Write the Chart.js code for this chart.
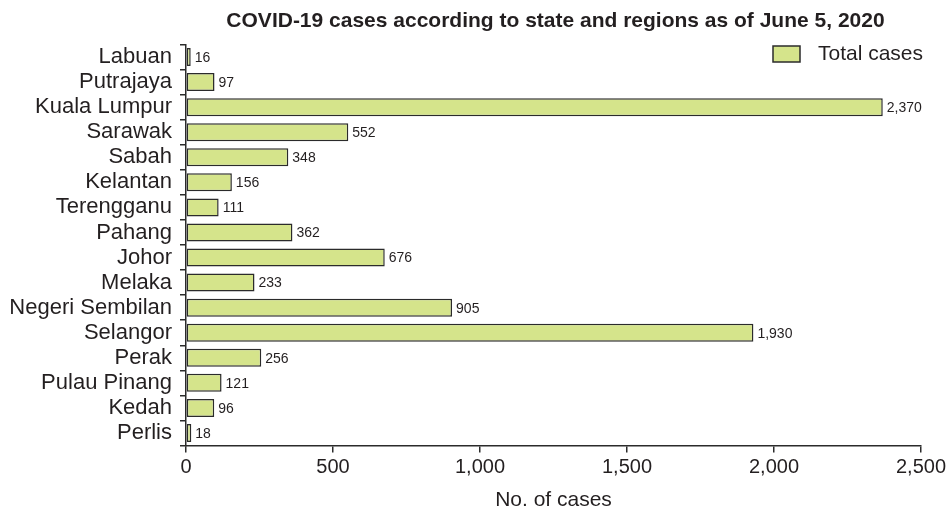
<!DOCTYPE html>
<html>
<head>
<meta charset="utf-8">
<script src="https://cdn.jsdelivr.net/npm/chart.js@4.4.1/dist/chart.umd.min.js"></script>
<style>
  html, body { margin: 0; padding: 0; background: #fff; }
  #wrap { width: 949px; height: 513px; }
</style>
</head>
<body>
<div id="wrap"><canvas id="casesChart" width="949" height="513"></canvas></div>
<script>
// data
let states = ["Labuan", "Putrajaya", "Kuala Lumpur", "Sarawak", "Sabah", "Kelantan", "Terengganu",
  "Pahang", "Johor", "Melaka", "Negeri Sembilan", "Selangor", "Perak", "Pulau Pinang", "Kedah", "Perlis"];
let totalCases = [16, 97, 2370, 552, 348, 156, 111, 362, 676, 233, 905, 1930, 256, 121, 96, 18];
let xTicks = [0, 500, 1000, 1500, 2000, 2500];

let chartTitle = 'COVID-19 cases according to state and regions as of June 5, 2020';
let fontName = "'Liberation Sans', Arial, sans-serif";
let textColor = '#231f20';
let lineColor = '#2b2b2b';
let barColor = 'rgb(213, 228, 139)';

// draws the number at the end of each bar
const barLabels = {
  id: 'barLabels',
  afterDatasetsDraw(chart) {
    const ctx = chart.ctx;
    const meta = chart.getDatasetMeta(0);
    ctx.save();
    ctx.font = '14px ' + fontName;
    ctx.fillStyle = textColor;
    ctx.textAlign = 'left';
    ctx.textBaseline = 'middle';
    meta.data.forEach(function (bar, i) {
      ctx.fillText(totalCases[i].toLocaleString('en-US'), bar.x + 4, bar.y + 1);
    });
    ctx.restore();
  }
};

// title centred over the plot, legend in the top right corner of the plot
const titleAndKey = {
  id: 'titleAndKey',
  afterDraw(chart) {
    const ctx = chart.ctx;
    const area = chart.chartArea;
    const ds = chart.data.datasets[0];
    ctx.save();
    ctx.fillStyle = textColor;
    ctx.textBaseline = 'middle';
    ctx.textAlign = 'center';
    ctx.font = 'bold 21px ' + fontName;
    ctx.fillText(chartTitle, (area.left + area.right) / 2 + 2, 21);

    // legend entry
    ctx.fillStyle = ds.backgroundColor;
    ctx.strokeStyle = ds.borderColor;
    ctx.lineWidth = 1.5;
    ctx.fillRect(773, 46, 27, 16);
    ctx.strokeRect(773, 46, 27, 16);
    ctx.fillStyle = textColor;
    ctx.textAlign = 'left';
    ctx.font = '21px ' + fontName;
    ctx.fillText(ds.label, 818, 54);
    ctx.restore();
  }
};

let ctx = document.getElementById('casesChart').getContext('2d');

let casesChart = new Chart(ctx, {
  type: 'bar',
  data: {
    labels: states,
    datasets: [{
      label: 'Total cases',
      data: totalCases,
      backgroundColor: barColor,
      borderColor: lineColor,
      borderWidth: 1.5,
      borderSkipped: false,
    }]
  },
  plugins: [barLabels, titleAndKey],
  options: {
    indexAxis: 'y',
    responsive: false,
    maintainAspectRatio: false,
    animation: false,
    layout: { padding: { left: 0, right: 26, top: 44.5, bottom: 0 } },
    plugins: {
      title: { display: false },
      legend: { display: false },
      tooltip: { enabled: false },
    },
    scales: {
      x: {
        min: 0,
        max: 2500,
        afterBuildTicks: function (scale) {
          scale.ticks = xTicks.map(v => ({ value: v }));
        },
        afterFit: function (scale) { scale.height = 67.5; },
        border: { color: lineColor, width: 1.5 },
        grid: { drawOnChartArea: false, color: lineColor, tickLength: 7, lineWidth: 1.5 },
        ticks: {
          color: textColor,
          font: { family: fontName, size: 20 },
          padding: 3,
          callback: v => v.toLocaleString('en-US'),
        },
        title: {
          display: true,
          text: 'No. of cases',
          color: textColor,
          font: { family: fontName, size: 21 },
          padding: { top: 2, bottom: 0 },
        }
      },
      y: {
        afterFit: function (scale) { scale.width = 186; },
        border: { color: lineColor, width: 1.5 },
        grid: { drawOnChartArea: false, color: lineColor, tickLength: 6, lineWidth: 1.5, offset: true },
        ticks: {
          color: textColor,
          font: { family: fontName, size: 22 },
          padding: 8,
          autoSkip: false,
        }
      }
    }
  }
});
</script>
</body>
</html>
